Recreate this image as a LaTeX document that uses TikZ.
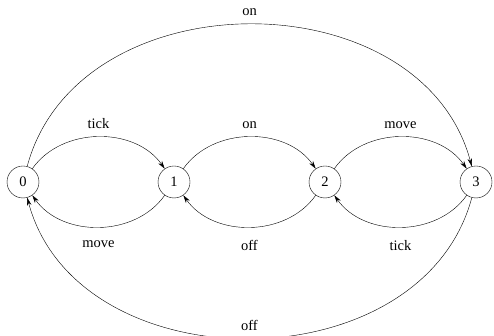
\documentclass[tikz,border=0pt]{standalone}
\usepackage{fontspec}
\setmainfont{Liberation Serif}
\usetikzlibrary{arrows.meta}

\begin{document}
\begin{tikzpicture}[x=1pt,y=1pt,>={Stealth[length=8pt,width=4.5pt]},font=\fontsize{14.5}{17}\selectfont,
    state/.style={draw,circle,minimum size=32pt,inner sep=0pt},
    trans/.style={->,thin}]
    \useasboundingbox (0,0) rectangle (494,336);

    \node[state] (s0) at (23,154) {0};
    \node[state] (s1) at (174,154) {1};
    \node[state] (s2) at (325,154) {2};
    \node[state] (s3) at (476,154) {3};

    % neighbours
	\draw[trans] (s0) to[out=55,in=125] node[above=5pt] {tick} (s1);
	\draw[trans] (s1) to[out=-125,in=-55] node[below=10pt] {move} (s0);
	\draw[trans] (s1) to[out=55,in=125] node[above=5pt] {on} (s2);
	\draw[trans] (s2) to[out=-125,in=-55] node[below=10pt] {off} (s1);
	\draw[trans] (s2) to[out=55,in=125] node[above=5pt] {move} (s3);
	\draw[trans] (s3) to[out=-125,in=-55] node[below=10pt] {tick} (s2);

    % outer arcs
	\draw[trans] (s0) to[out=75,in=105,looseness=1.13] node[above=5pt] {on} (s3);
	\draw[trans] (s3) to[out=-105,in=-75,looseness=1.12] node[above=4pt] {off} (s0);
 \end{tikzpicture}
\end{document}
